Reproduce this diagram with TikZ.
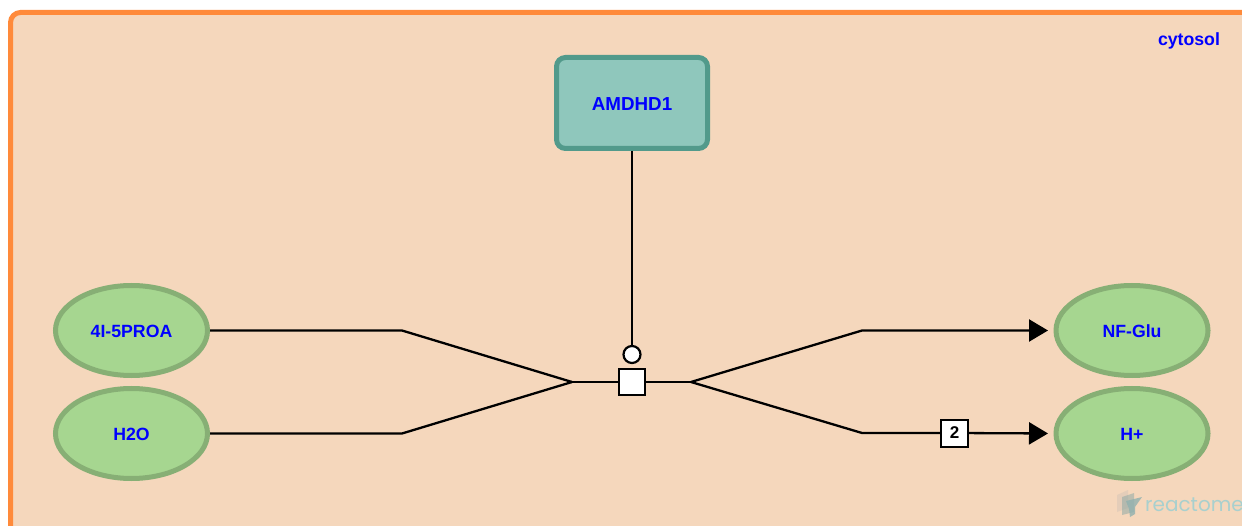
\documentclass[tikz,border=0pt]{standalone}
\usepackage{fontspec}
\setmainfont{Liberation Sans}
\newfontfamily\wmfont{Poppins}
\usetikzlibrary{arrows.meta, positioning, shapes.geometric}
\definecolor{compfill}{HTML}{F5D7BC}
\definecolor{compline}{HTML}{FF8A3A}
\definecolor{chemfill}{HTML}{A6D690}
\definecolor{chemline}{HTML}{87AF75}
\definecolor{protfill}{HTML}{8FC7BC}
\definecolor{protline}{HTML}{529A8B}
\definecolor{wmcolor}{HTML}{A9D0CE}

\begin{document}
\begin{tikzpicture}[
x=1pt, y=1pt,
font=\fontsize{17.7}{20}\selectfont\bfseries,
chem/.style={draw=chemline,
fill=chemfill,
ellipse,
line width=5pt,
minimum width=152pt,
minimum height=90pt,
inner sep=0pt,
text height=14.4pt,
text depth=0pt,
text=blue},
prot/.style={draw=protline,
fill=protfill,
rectangle,
rounded corners=9pt,
line width=5pt,
minimum width=151pt,
minimum height=91pt,
text height=15pt,
text depth=0pt,
text=blue},
react/.style={draw, fill=white, rectangle, line width=2.4pt,
minimum size=26pt, inner sep=0pt},
stoich/.style={draw, fill=white, rectangle, line width=2pt,
minimum size=27pt, inner sep=0pt, text=black,
font=\fontsize{17}{18}\selectfont\bfseries},
catal/.style={draw, fill=white, circle, line width=2.2pt,
minimum size=17pt, inner sep=0pt},
link/.style={line width=2.3pt},
arrow/.style={-{Triangle[length=19pt,width=22pt]}, line width=2.3pt, shorten >=5.5pt} ]

\clip (0,0) rectangle (1242,-526);
\useasboundingbox (0,0) rectangle (1242,-526);

% compartment
\draw[draw=compline, fill=compfill, line width=5pt, rounded corners=10pt]
(10.5,-12.5) rectangle (1290,-570);
\node[text=blue, anchor=east] (cytosol) at (1223.5,-41) {cytosol};

\node[prot] (amdhd1) at (632,-103) {\fontsize{18.8}{20}\selectfont AMDHD1};
\node[chem] (sub1) at (131.5,-330.5) {4I-5PROA};
\node[chem] (sub2) at (131.5,-433.5) {H2O};
\node[chem] (prod1) at (1132,-330.5) {NF-Glu};
\node[chem] (prod2) at (1132,-433.5) {H+};

\node[react] (reaction) at (632,-382) {};
\node[catal] (catalyst) at (632,-354.5) {};
\node[stoich] (count) at (954.5,-433) {2};

\coordinate (bend1) at (402,-330.5);
\coordinate (bend2) at (402,-433.5);
\coordinate (bend3) at (862,-330.5);
\coordinate (bend4) at (862,-433);
\coordinate (joinin) at (572,-382);
\coordinate (joinout) at (691,-382);

\draw[link] (sub1.east) -- (bend1) -- (joinin);
\draw[link] (sub2.east) -- (bend2) -- (joinin);
\draw[link] (joinin) -- (reaction);
\draw[link] (reaction) -- (joinout);
\draw[arrow] (joinout) -- (bend3) -- (prod1.west);
\draw[link] (joinout) -- (bend4) -- (count);
\draw[arrow] (count) -- (prod2.west);
\draw[link] (amdhd1) -- (catalyst);

% watermark
\fill[black!30, opacity=.25] (1117,-495) -- (1128,-490) -- (1128,-508) -- (1117,-512) -- cycle;
\fill[wmcolor!80!black, opacity=.5] (1122,-497) -- (1134,-493) -- (1134,-512) -- (1122,-515) -- cycle;
\fill[wmcolor!85!black, opacity=.8] (1126,-501) -- (1142,-497) -- (1135,-507) -- (1135,-514) -- (1130,-517) -- (1129,-509) -- cycle;
\node[text=wmcolor, anchor=west, inner sep=0pt, font=\fontsize{20}{25}\selectfont\wmfont] (logo) at (1145,-505) {reactome};

\end{tikzpicture}
\end{document}
